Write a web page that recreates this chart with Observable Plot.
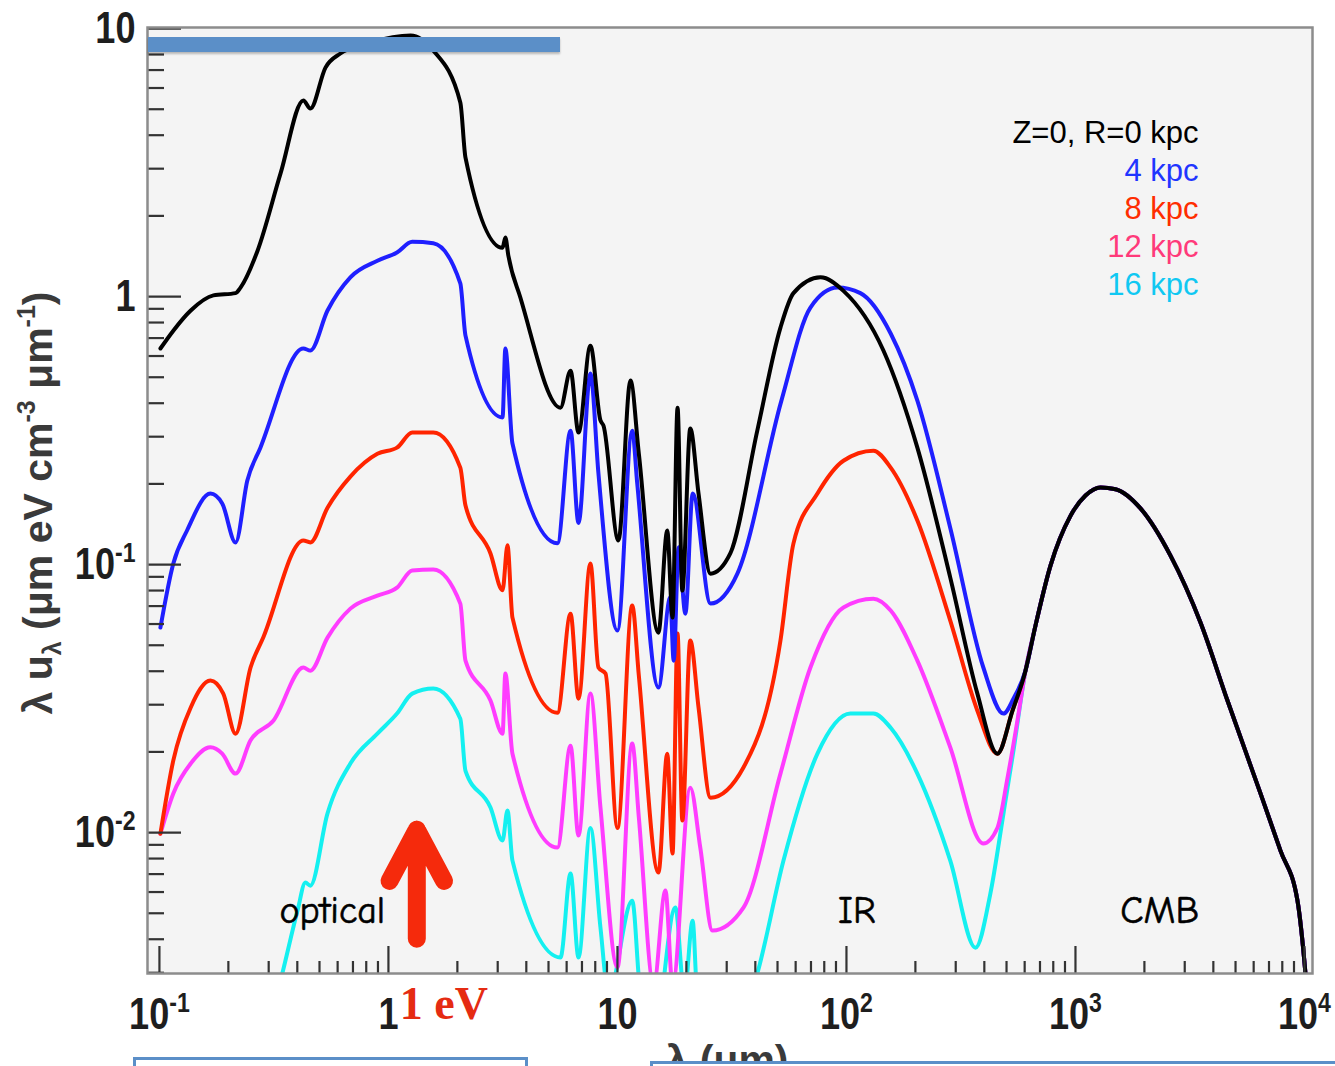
<!DOCTYPE html>
<html>
<head>
<meta charset="utf-8">
<script src="https://cdn.jsdelivr.net/npm/d3@7"></script>
<script src="https://cdn.jsdelivr.net/npm/@observablehq/plot@0.6"></script>
<style>
  html, body { margin: 0; padding: 0; background: #fff; }
  #wrap { position: relative; width: 1335px; height: 1066px; overflow: hidden; background: #fff; }
  #wrap svg { display: block; }
  g[aria-label="x-axis tick label"] text,
  g[aria-label="y-axis tick label"] text {
    font-family: "Liberation Sans", Arial, Helvetica, sans-serif;
    font-weight: bold;
    font-size: 44px;
    fill: #1e1e1e;
  }
  .bar { position: absolute; left: 148px; top: 37px; width: 412px; height: 15px; background: #5b8fc8; box-shadow: 0 2px 2px rgba(0,0,0,0.25); }
  .box { position: absolute; box-sizing: border-box; border: 3px solid #5b8fc8; background: #fff; height: 40px; }
</style>
</head>
<body>
<div id="wrap"></div>
<script>
// ---- data: wavelength λ (μm), λ·u_λ (eV cm^-3) ----
const seriesR0 = [[0.101,0.640],[0.115,0.746],[0.137,0.887],[0.172,1.01],[0.215,1.03],[0.226,1.08],[0.268,1.48],[0.338,2.88],[0.425,5.39],[0.456,5.03],[0.531,7.15],[0.617,8.07],[0.834,8.87],[1.25,9.42],[1.57,8.28],[2.06,5.30],[2.17,3.30],[3.15,1.52],[3.24,1.66],[3.34,1.42],[3.77,0.99],[5.64,0.385],[6.24,0.529],[6.76,0.311],[7.62,0.656],[8.43,0.345],[8.69,0.330],[10.1,0.123],[11.4,0.486],[12.4,0.259],[15.1,0.0557],[16.5,0.134],[17.4,0.0634],[18.3,0.385],[19.2,0.080],[20.8,0.322],[22.6,0.184],[25.5,0.0925],[31.1,0.110],[40.8,0.316],[51.5,0.766],[58.7,1.03],[77.0,1.18],[97.0,1.05],[145,0.629],[204,0.273],[284,0.0894],[373,0.0330],[456,0.0197],[531,0.0285]];
const seriesR4 = [[0.101,0.0582],[0.115,0.101],[0.132,0.134],[0.167,0.184],[0.188,0.169],[0.215,0.121],[0.242,0.206],[0.276,0.273],[0.425,0.640],[0.456,0.629],[0.542,0.887],[0.682,1.18],[0.895,1.36],[1.09,1.46],[1.27,1.60],[1.57,1.58],[2.06,1.12],[2.17,0.715],[3.15,0.354],[3.24,0.640],[3.48,0.283],[5.47,0.120],[6.24,0.316],[6.76,0.143],[7.62,0.516],[8.26,0.219],[10.0,0.0567],[11.6,0.316],[12.2,0.201],[15.1,0.0348],[17.0,0.0753],[17.6,0.0438],[18.5,0.116],[19.8,0.0656],[21.3,0.184],[25.5,0.0715],[33.4,0.0925],[52.0,0.409],[69.6,0.910],[91.4,1.08],[115,1.03],[156,0.728],[204,0.409],[284,0.137],[396,0.0413],[485,0.0278],[536,0.0316]];
const seriesR8 = [[0.101,0.0099],[0.115,0.0186],[0.137,0.0293],[0.167,0.0369],[0.190,0.0330],[0.215,0.0234],[0.250,0.0413],[0.284,0.0534],[0.425,0.123],[0.456,0.121],[0.542,0.163],[0.682,0.213],[0.895,0.259],[1.09,0.273],[1.27,0.311],[1.57,0.311],[2.06,0.230],[2.17,0.166],[2.79,0.110],[3.15,0.0802],[3.31,0.118],[3.48,0.0634],[5.47,0.0280],[6.24,0.0656],[6.76,0.0316],[7.62,0.101],[8.26,0.0413],[8.87,0.0392],[10.0,0.0104],[11.6,0.0703],[12.4,0.0385],[15.1,0.00709],[16.5,0.0197],[17.4,0.00835],[18.3,0.0553],[19.2,0.0111],[20.8,0.0521],[22.6,0.0293],[25.5,0.0135],[35.5,0.0175],[51.5,0.0521],[58.7,0.120],[74.7,0.184],[97.0,0.244],[131,0.266],[156,0.230],[204,0.146],[284,0.0618],[373,0.0285],[456,0.0197],[531,0.0285]];
const seriesR12 = [[0.101,0.0099],[0.115,0.0140],[0.137,0.0181],[0.167,0.0208],[0.188,0.0197],[0.215,0.0166],[0.250,0.0221],[0.315,0.0262],[0.425,0.0413],[0.456,0.0402],[0.542,0.0534],[0.682,0.0685],[0.895,0.0766],[1.09,0.0820],[1.27,0.0950],[1.57,0.0958],[2.06,0.0715],[2.17,0.0438],[2.79,0.0311],[3.15,0.0234],[3.24,0.0392],[3.48,0.0197],[5.47,0.00879],[6.24,0.0211],[6.76,0.00975],[7.62,0.0330],[8.43,0.0124],[10.0,0.00314],[11.6,0.0215],[12.4,0.0114],[14.4,0.0027],[16.2,0.00608],[17.4,0.0027],[20.8,0.0147],[23.0,0.00879],[26.0,0.00431],[35.5,0.00525],[51.5,0.0166],[69.6,0.0413],[97.0,0.0692],[131,0.0746],[156,0.0674],[204,0.0438],[284,0.0208],[396,0.00910],[456,0.0104],[505,0.0160],[558,0.0262]];
const seriesR16 = [[0.305,0.0020],[0.344,0.00298],[0.401,0.00512],[0.434,0.00651],[0.456,0.00634],[0.542,0.0118],[0.682,0.0181],[0.895,0.0234],[1.09,0.0278],[1.27,0.0330],[1.57,0.0345],[2.06,0.0266],[2.17,0.0170],[2.79,0.0124],[3.15,0.00934],[3.31,0.0121],[3.48,0.00786],[5.64,0.00342],[6.24,0.00703],[6.76,0.00342],[7.62,0.0104],[8.43,0.00442],[9.14,0.0025],[11.6,0.00557],[12.6,0.0025],[14.5,0.0018],[17.9,0.00525],[19.6,0.0025],[21.3,0.00469],[22.3,0.0025],[29.6,0.0015],[40.8,0.00298],[53.1,0.00786],[74.7,0.0197],[104,0.0278],[131,0.0278],[156,0.0246],[204,0.0166],[284,0.00786],[366,0.00372],[425,0.00592],[485,0.0118],[536,0.0202]];
// common CMB part shared by all radii
const cmbTail = [[605,0.0402],[669,0.0592],[778,0.0991],[951,0.152],[1106,0.181],[1286,0.194],[1496,0.191],[1923,0.162],[2600,0.108],[3515,0.0608],[4610,0.0311],[6425,0.0140],[7855,0.00857],[9320,0.00557],[10100,0.00298],[10400,0.0022]];

const seriesNames = ["Z=0, R=0 kpc", "4 kpc", "8 kpc", "12 kpc", "16 kpc"];
const lineColors = ["#000000", "#1f1fff", "#ff2400", "#ff3cff", "#14f0f0"];
const legendColors = ["#000000", "#1f35ff", "#ff2d00", "#ff3a7a", "#10c8f2"];

const xMajorTicks = [0.1, 1, 10, 100, 1000, 10000];
const xMinorTicks = [0.2,0.3,0.4,0.5,0.6,0.7,0.8,0.9, 2,3,4,5,6,7,8,9, 20,30,40,50,60,70,80,90, 200,300,400,500,600,700,800,900, 2000,3000,4000,5000,6000,7000,8000,9000];
const yMajorTicks = [0.01, 0.1, 1, 10];
const yMinorTicks = [0.003,0.004,0.005,0.006,0.007,0.008,0.009, 0.02,0.03,0.04,0.05,0.06,0.07,0.08,0.09, 0.2,0.3,0.4,0.5,0.6,0.7,0.8,0.9, 2,3,4,5,6,7,8,9];

const regionNames = ["optical", "IR", "CMB"];
const regionLambda = [0.569, 111, 2330];
const photonMarker = [{lambda: 1.33, base: 0.00402, label: "1 eV"}];

// ---- plot ----
const W = 1335, H = 1066, mL = 147, mR = 23, mT = 27, mB = 93;
const fw = W - mL - mR, fh = H - mT - mB;
const allSeries = [seriesR0, seriesR4, seriesR8, seriesR12, seriesR16].map((pts, i) => ({
  name: seriesNames[i], color: lineColors[i],
  rows: pts.concat(cmbTail).map(([lambda, u]) => ({lambda, u}))
}));
const drawOrder = [4, 3, 2, 1, 0];
const fmt = d => d === 1 ? "1" : d === 10 ? "10" : "10^" + Math.round(Math.log10(d));
const arrowShape = {
  draw(ctx, l) {
    const hw = l * 0.25, hl = l * 0.47;
    ctx.moveTo(0, 0); ctx.lineTo(0, -l);
    ctx.moveTo(-hw, hl - l); ctx.lineTo(0, -l); ctx.lineTo(hw, hl - l);
  }
};

const plot = Plot.plot({
  width: W, height: H,
  marginLeft: mL, marginRight: mR, marginTop: mT, marginBottom: mB,
  style: {background: "white"},
  x: {type: "log", domain: [0.0887, 10840], axis: null},
  y: {type: "log", domain: [0.00298, 10.09], axis: null},
  color: {type: "identity"},
  marks: [
    Plot.frame({fill: "#f4f4f4", stroke: null}),
    ...drawOrder.map(i => Plot.line(allSeries[i].rows, {
      x: "lambda", y: "u", stroke: allSeries[i].color, strokeWidth: 4,
      curve: "monotone-x", clip: true, strokeLinejoin: "round"
    })),
    Plot.ruleY(yMajorTicks, {y: d => d, insetRight: fw - 34, stroke: "#333", strokeWidth: 2.2}),
    Plot.ruleY(yMinorTicks, {y: d => d, insetRight: fw - 17, stroke: "#333", strokeWidth: 2.2}),
    Plot.ruleX(xMajorTicks, {x: d => d, insetTop: fh - 27, stroke: "#333", strokeWidth: 2.2}),
    Plot.ruleX(xMinorTicks, {x: d => d, insetTop: fh - 12, stroke: "#333", strokeWidth: 2.2}),
    Plot.frame({stroke: "#8c8c8c", strokeWidth: 2.5}),
    Plot.axisX({ticks: xMajorTicks, tickSize: 0, tickPadding: 24, tickFormat: fmt, label: null}),
    Plot.axisY({ticks: yMajorTicks, tickSize: 0, tickPadding: 12, tickFormat: fmt, label: null}),
    ...seriesNames.map((name, i) => Plot.text([name], {
      frameAnchor: "top-right", lineAnchor: "middle", dx: -114, dy: 106 + 38 * i, text: d => d,
      fill: legendColors[i], textAnchor: "end", fontSize: 31,
      fontFamily: "Liberation Sans, Arial, Helvetica, sans-serif"
    })),
    Plot.text(regionNames, {
      x: (d, i) => regionLambda[i], frameAnchor: "bottom", lineAnchor: "middle", dy: -63, text: d => d,
      fill: "#000", fontSize: 38, fontWeight: 500, stroke: "#000", strokeWidth: 0.6,
      fontFamily: "'Comic Sans MS', 'Comic Neue', 'DejaVu Sans', sans-serif"
    }),
    Plot.vector(photonMarker, {
      x: "lambda", y: "base", length: 109, anchor: "start", shape: arrowShape,
      stroke: "#f52a0c", strokeWidth: 18, strokeLinecap: "round", strokeLinejoin: "round"
    }),
    Plot.text(photonMarker, {
      x: "lambda", frameAnchor: "bottom", lineAnchor: "middle", dx: 27, dy: 31, text: "label",
      fill: "#e52b12", fontSize: 46, fontWeight: "bold",
      fontFamily: "'Liberation Serif', 'Times New Roman', serif"
    })
  ]
});

const ns = "http://www.w3.org/2000/svg";
// superscripts + condensed look in tick labels
plot.querySelectorAll('g[aria-label="x-axis tick label"] text, g[aria-label="y-axis tick label"] text').forEach(t => {
  const s = t.textContent;
  const tr = t.getAttribute("transform");
  if (tr) t.setAttribute("transform", tr + " scale(0.82,1)");
  if (!s.includes("^")) return;
  const [b, e] = s.split("^");
  t.textContent = "";
  const t1 = document.createElementNS(ns, "tspan"); t1.textContent = b; t.appendChild(t1);
  const t2 = document.createElementNS(ns, "tspan"); t2.textContent = e;
  t2.setAttribute("dy", "-0.6em"); t2.setAttribute("font-size", "64%");
  t.appendChild(t2);
});

function svgText(attrs, parts) {
  const t = document.createElementNS(ns, "text");
  for (const [k, v] of Object.entries(attrs)) t.setAttribute(k, v);
  for (const p of parts) {
    const s = document.createElementNS(ns, "tspan");
    s.textContent = p.text;
    if (p.dy) s.setAttribute("dy", p.dy);
    if (p.size) s.setAttribute("font-size", p.size);
    t.appendChild(s);
  }
  plot.appendChild(t);
}
const labelStyle = {"font-family": "Liberation Sans, Arial, sans-serif", "font-weight": "bold", "font-size": 41, fill: "#3a3a3a", "text-anchor": "middle"};
svgText({...labelStyle, transform: "translate(52,503) rotate(-90)"}, [
  {text: "λ u"}, {text: "λ", dy: "9", size: 25}, {text: " (μm eV cm", dy: "-9"},
  {text: "-3", dy: "-17", size: 25}, {text: " μm", dy: "17"},
  {text: "-1", dy: "-17", size: 25}, {text: ")", dy: "17"}
]);
svgText({...labelStyle, x: 727, y: 1074}, [{text: "λ (μm)"}]);

const wrap = document.getElementById("wrap");
wrap.appendChild(plot);
const bar = document.createElement("div"); bar.className = "bar"; wrap.appendChild(bar);
const b1 = document.createElement("div"); b1.className = "box";
b1.style.left = "133px"; b1.style.top = "1057px"; b1.style.width = "395px"; wrap.appendChild(b1);
const b2 = document.createElement("div"); b2.className = "box";
b2.style.left = "650px"; b2.style.top = "1061px"; b2.style.width = "720px"; wrap.appendChild(b2);
</script>
</body>
</html>
